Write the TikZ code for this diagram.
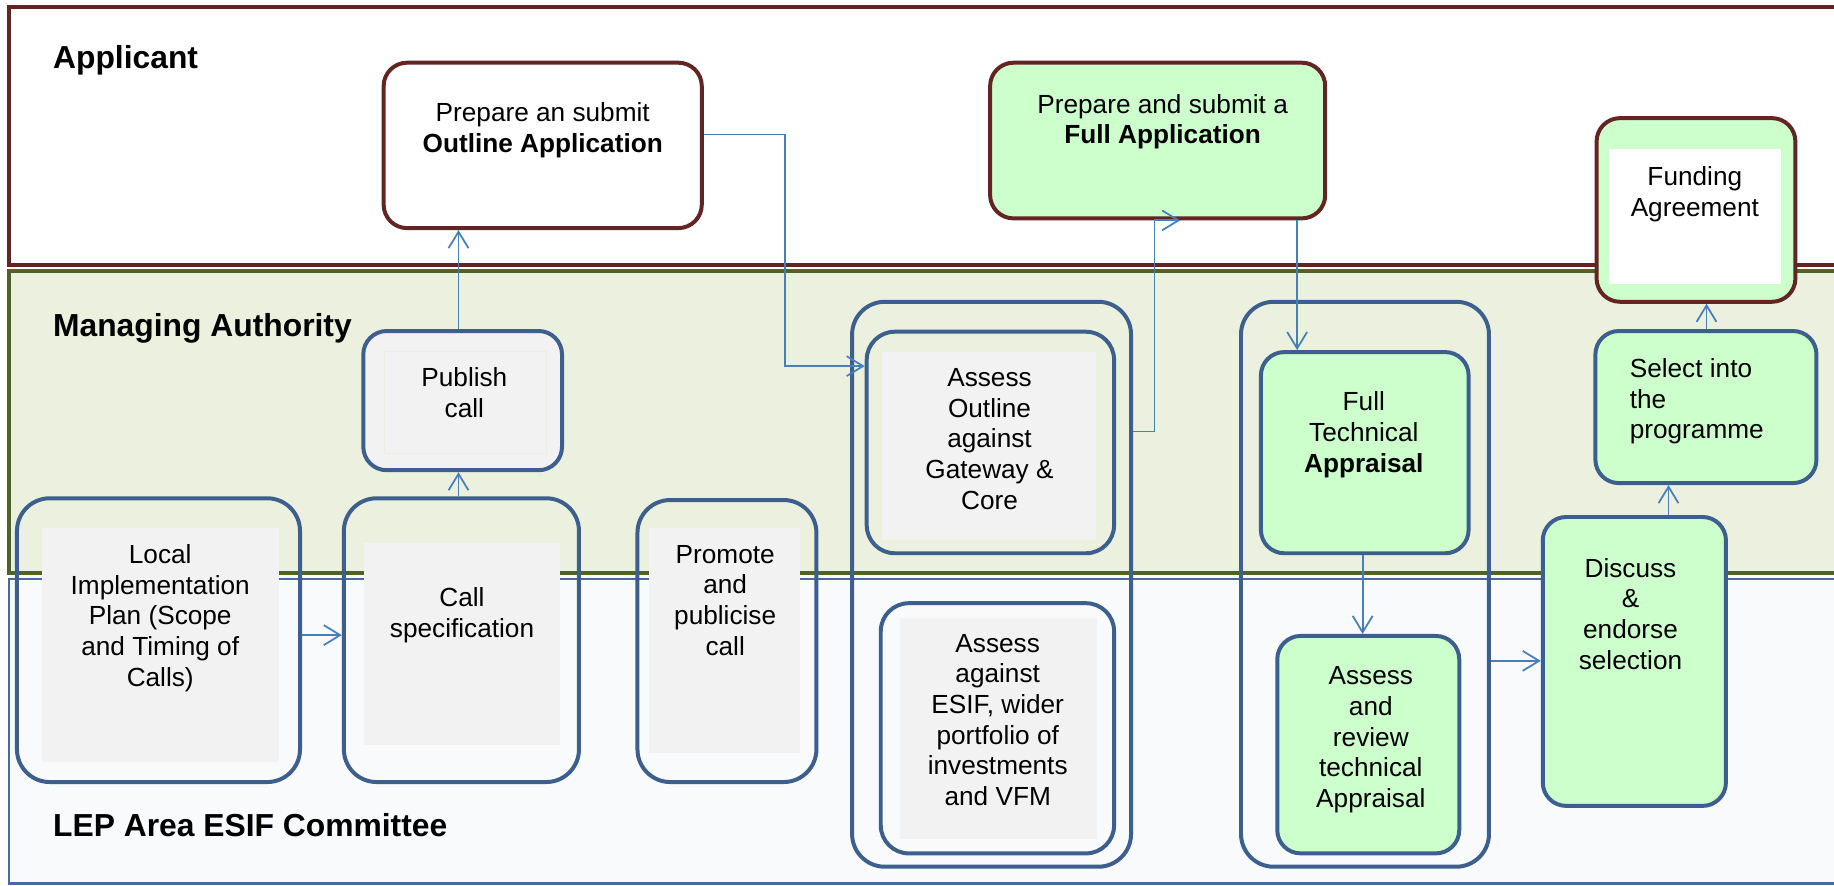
\documentclass[tikz,border=0pt]{standalone}
\usepackage{fontspec}
\setmainfont{Liberation Sans}
\usetikzlibrary{arrows.meta,fit}

\definecolor{appRed}{HTML}{632523}
\definecolor{maOlive}{HTML}{4F6228}
\definecolor{maFill}{HTML}{EBF1DE}
\definecolor{lepFill}{HTML}{F8FAFC}
\definecolor{lepLine}{HTML}{4A6A9A}
\definecolor{boxBlue}{HTML}{3C5F8E}
\definecolor{connBlue}{HTML}{4A7EBB}
\definecolor{stepGreen}{HTML}{CCFFCC}
\definecolor{stepGray}{HTML}{F2F2F2}
\definecolor{faintEdge}{HTML}{EEEEDF}

\begin{document}
\begin{tikzpicture}[x=0.5pt,y=-0.5pt,
  lane/.style={inner sep=0pt, line width=1.7pt},
  lanetitle/.style={anchor=base west, inner sep=0pt, font=\fontsize{13.6}{16}\selectfont\bfseries},
  appbox/.style={inner sep=0pt, draw=appRed, line width=1.7pt, rounded corners=10pt},
  stepbox/.style={inner sep=0pt, draw=boxBlue, line width=1.7pt, rounded corners=10pt},
  bigbox/.style={inner sep=0pt, draw=boxBlue, line width=1.7pt, rounded corners=14pt},
  panel/.style={inner sep=0pt, fill=stepGray},
  txt/.style={anchor=north, inner sep=0pt, align=center, yshift=-1.1pt,
    font=\fontsize{11.2}{13.1}\selectfont, execute at begin node=\strut},
  conn/.style={draw=connBlue, line width=0.75pt,
    -{Straight Barb[length=7pt,width=8.5pt,line width=0.75pt]}}
]
\useasboundingbox (0,0) rectangle (1568,757);

% ---------- swim lanes ----------
\begin{scope}
\clip (0,0) rectangle (1568,757);
\node[lane, fill=lepFill, draw=lepLine, line width=1.05pt,
      fit={(7.7,495) (1610,755.4)}] (laneLEP) {};
\node[lane, fill=maFill, draw=maOlive, fit={(7.7,231.8) (1610,489.8)}] (laneMA) {};
\node[lane, fill=white, draw=appRed, fit={(7.7,5.8) (1610,226.5)}] (laneApp) {};
\end{scope}

\node[lanetitle] (tApp) at (45,58.4) {Applicant};
\node[lanetitle] (tMA) at (45,287.3) {Managing Authority};
\node[lanetitle] (tLEP) at (45,715.5) {LEP Area ESIF Committee};

% ---------- grouping frames ----------
\node[bigbox, fit={(728.5,258) (967,741)}] (grpOutline) {};
\node[bigbox, fit={(1061,258) (1273,741)}] (grpFull) {};

% ---------- applicant steps ----------
\node[appbox, fill=white, fit={(328,53.6) (600,195)}] (outline) {};
\node[txt] (outlineT) at (464,85) {Prepare an submit\\\textbf{Outline Application}};

\node[appbox, fill=stepGreen, fit={(846.5,53.6) (1133,186.7)}] (fullapp) {};
\node[txt] (fullappT) at (994,78) {Prepare and submit a\\\textbf{Full Application}};

\node[appbox, fill=stepGreen, fit={(1365,101) (1535,258)}] (funding) {};
\node[inner sep=0pt, fill=white, fit={(1375.6,127.7) (1522.7,242.8)}] (fundingIn) {};
\node[txt] (fundingT) at (1449,140) {Funding\\Agreement};

% ---------- managing authority / committee steps ----------
\node[stepbox, fill=stepGray, fit={(310.6,283) (480.5,402)}] (publish) {};
\node[panel, draw=faintEdge, line width=0.4pt, fit={(328.5,300.7) (467.4,387.6)}] (publishIn) {};
\node[txt] (publishT) at (397,312) {Publish\\call};

\node[panel, fit={(36,451.5) (238.5,651.5)}] (localIn) {};
\node[bigbox, fit={(14.5,426) (256.5,668.6)}] (local) {};
\node[txt] (localT) at (137,463) {Local\\Implementation\\Plan (Scope\\and Timing of\\Calls)};

\node[panel, fit={(311,464) (479,637)}] (callspecIn) {};
\node[bigbox, fit={(294,426) (495,668.6)}] (callspec) {};
\node[txt] (callspecT) at (395,499.6) {Call\\specification};

\node[panel, fit={(555,451.6) (684,644)}] (promoteIn) {};
\node[bigbox, fit={(545,427.5) (698,668.6)}] (promote) {};
\node[txt] (promoteT) at (620,463.5) {Promote\\and\\publicise\\call};

\node[panel, fit={(754,301) (937,462)}] (assessOIn) {};
\node[stepbox, rounded corners=12pt, fit={(741,283.6) (952.5,473)}] (assessO) {};
\node[txt] (assessOT) at (846,312.5) {Assess\\Outline\\against\\Gateway \&\\Core};

\node[panel, fit={(769.5,528) (938,717)}] (assessEIn) {};
\node[stepbox, rounded corners=12pt, fit={(753,515.7) (952.5,729.6)}] (assessE) {};
\node[txt] (assessET) at (853,539.6) {Assess\\against\\ESIF, wider\\portfolio of\\investments\\and VFM};

\node[stepbox, fill=stepGreen, fit={(1078,301) (1255.6,473)}] (fta) {};
\node[txt] (ftaT) at (1166,332.5) {Full\\Technical\\\textbf{Appraisal}};

\node[stepbox, fill=stepGreen, fit={(1092,543.7) (1247.6,729.6)}] (review) {};
\node[txt] (reviewT) at (1172,567.5) {Assess\\and\\review\\technical\\Appraisal};

\node[stepbox, fill=stepGreen, fit={(1319,442) (1475.6,689)}] (discuss) {};
\node[txt] (discussT) at (1394,474.7) {Discuss\\\&\\endorse\\selection};

\node[stepbox, fill=stepGreen, fit={(1364,283) (1553,413)}] (select) {};
\node[txt, anchor=north west, align=left] (selectT) at (1393,304) {Select into\\the\\programme};

% ---------- connector routing points ----------
\coordinate (xPub) at (392,0);
\coordinate (yLocal) at (0,543);
\coordinate (dBend) at (671,115);
\coordinate (dIn) at (0,313);
\coordinate (eBend) at (987,369);
\coordinate (eTip) at (1009,0);
\coordinate (xFull) at (1109,0);
\coordinate (xFta) at (1165,0);
\coordinate (yDisc) at (0,565);
\coordinate (xDisc) at (1426.5,0);
\coordinate (xSel) at (1459,0);

% ---------- connectors ----------
\draw[conn] (xPub |- callspec.north) -- (xPub |- publish.south);
\draw[conn] (xPub |- publish.north) -- (xPub |- outline.south);
\draw[conn] (local.east |- yLocal) -- (callspec.west |- yLocal);
\draw[conn] (outline.east |- dBend) -- (dBend) |- (assessO.west |- dIn);
\draw[conn] (grpOutline.east |- eBend) -- (eBend) |- (eTip |- fullapp.south);
\draw[conn] (xFull |- fullapp.south) -- (xFull |- fta.north);
\draw[conn] (xFta |- fta.south) -- (xFta |- review.north);
\draw[conn] (grpFull.east |- yDisc) -- (discuss.west |- yDisc);
\draw[conn] (xDisc |- discuss.north) -- (xDisc |- select.south);
\draw[conn] (xSel |- select.north) -- (xSel |- funding.south);
\end{tikzpicture}
\end{document}
